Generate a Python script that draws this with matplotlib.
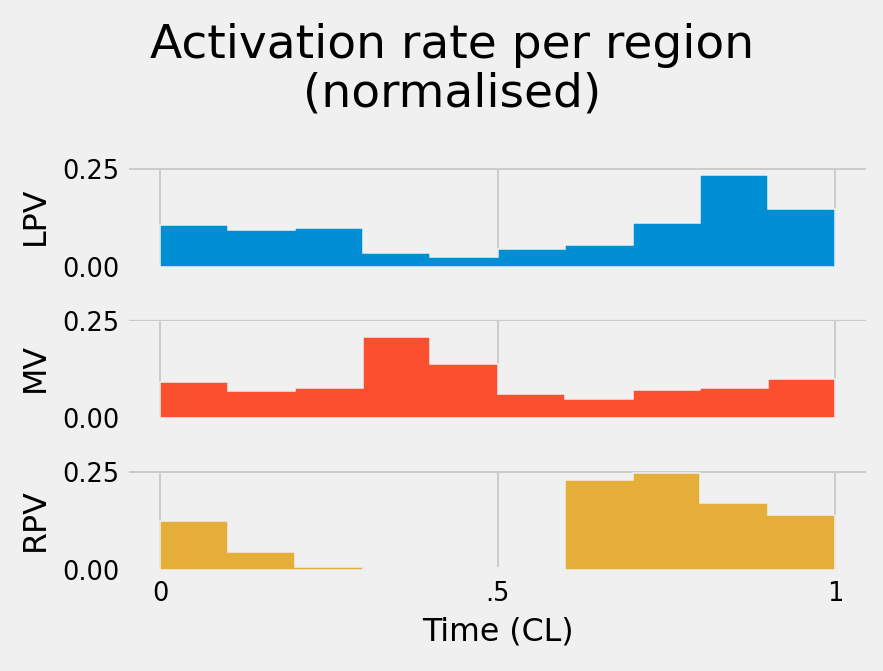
import numpy as np
import matplotlib.pyplot as plt

plt.style.use('fivethirtyeight')

# bin edges over the normalised cycle (CL)
bin_edges = [0.0, 0.1, 0.2, 0.3, 0.4, 0.5, 0.6, 0.7, 0.8, 0.9, 1.0]
regions = ['LPV', 'MV', 'RPV']

# fraction of activations per bin
lpv_rate = [0.106, 0.095, 0.099, 0.036, 0.025, 0.046, 0.056, 0.112, 0.235, 0.147]
mv_rate = [0.093, 0.070, 0.077, 0.208, 0.139, 0.063, 0.050, 0.073, 0.077, 0.100]
rpv_rate = [0.125, 0.045, 0.008, 0.0, 0.0, 0.0, 0.231, 0.2475, 0.171, 0.140]

xticks = [0, 0.5, 1]
xtick_labels = ['0', '.5', '1']


def main():
    fig, axes = plt.subplots(3, 1, sharex=True, sharey=True,
                             figsize=(6.4, 4.863), dpi=138)
    fig.subplots_adjust(left=0.143, right=0.984, top=0.754, bottom=0.1505,
                        hspace=0.49)

    colors = plt.rcParams['axes.prop_cycle'].by_key()['color']
    centers = (np.array(bin_edges[:-1]) + np.array(bin_edges[1:])) / 2

    for ax, name, rate, c in zip(axes, regions, [lpv_rate, mv_rate, rpv_rate], colors):
        ax.hist(centers, bins=bin_edges, weights=rate, histtype='stepfilled',
                color=c, edgecolor='#f0f0f0', linewidth=0.8, zorder=2)
        ax.set_ylabel(name, fontsize=16.5, labelpad=6)
        ax.set_yticks([0, 0.25])
        ax.tick_params(labelsize=13.4)
        # hide the zero gridline but keep the bars on top
        ax.spines['bottom'].set_zorder(1)

    axes[-1].set_xticks(xticks)
    axes[-1].set_xticklabels(xtick_labels)
    axes[-1].tick_params(axis='x', pad=5.5)
    axes[-1].set_xlabel('Time (CL)', fontsize=16.5, labelpad=5)

    fig.suptitle('Activation rate per region\n(normalised)', x=0.512, y=0.966,
                 fontsize=24.6, linespacing=1.1)

    fig.savefig('out.png', dpi=138)


if __name__ == "__main__":
    main()
